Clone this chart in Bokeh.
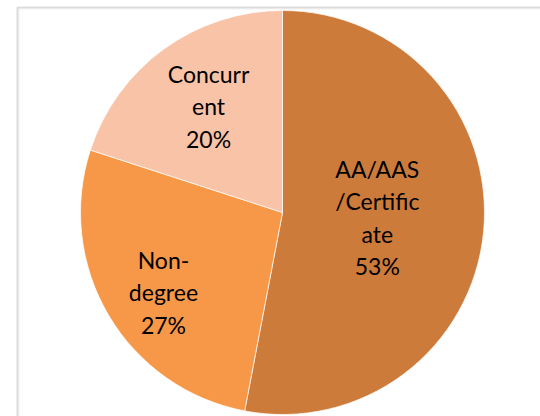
import numpy as np
from bokeh.plotting import figure
from bokeh.models import Range1d, BoxAnnotation, ColumnDataSource
from bokeh.embed import file_html
from bokeh.resources import INLINE
from bokeh.core.properties import value

# ---- data ----
categories = ["AA/AAS/Certificate", "Non-degree", "Concurrent"]
shares = [53, 27, 20]
label_texts = ["AA/AAS\n/Certific\nate\n53%", "Non-\ndegree\n27%", "Concurr\nent\n20%"]
colors = ["#CD7B3A", "#F79848", "#F9C3A8"]

# ---- layout ----
W, H = 540, 416
cx, cy, R = 282, 204, 202            # pie centre / radius in plot pixels
label_r = [0.47, 0.71, 0.64]          # radial position of labels (fraction of R)
label_dang = [2.4, 3.3, -1.1]         # small angular nudge of labels (degrees)

frac = np.array(shares, dtype=float) / sum(shares)
ends_cum = np.cumsum(frac)
starts_cum = ends_cum - frac
start_angle = np.pi / 2 - 2 * np.pi * starts_cum
end_angle = np.pi / 2 - 2 * np.pi * ends_cum
mid = (start_angle + end_angle) / 2 + np.radians(label_dang)
lx = cx + R * np.array(label_r) * np.cos(mid)
ly = cy + R * np.array(label_r) * np.sin(mid)

src = ColumnDataSource(dict(cat=categories, start=start_angle, end=end_angle,
                            color=colors, lx=lx, ly=ly, txt=label_texts))

p = figure(width=W, height=H, output_backend="svg", toolbar_location=None,
           x_range=Range1d(0, W), y_range=Range1d(0, H), min_border=0,
           background_fill_color="white", border_fill_color="white")
p.axis.visible = False
p.grid.visible = False
p.outline_line_color = None

# chart frame
p.add_layout(BoxAnnotation(left=17, top=409, right=W + 50, bottom=-50,
                           fill_alpha=0, line_color="#8C8C8C", line_width=2))
p.add_layout(BoxAnnotation(left=18.5, top=407.5, right=W + 50, bottom=-50,
                           fill_alpha=0, line_color="#D4D4D4", line_width=1))

p.wedge(x=cx, y=cy, radius=R, start_angle="start", end_angle="end",
        direction="clock", fill_color="color", line_color="white",
        line_width=1, line_alpha=0.7, source=src)

p.text(x="lx", y="ly", text="txt", source=src, text_align="center",
       text_baseline="middle", text_font=value("Lato"), text_font_size="23px",
       text_color="black", text_line_height=1.15)

open("out.html", "w").write(file_html(p, INLINE))
